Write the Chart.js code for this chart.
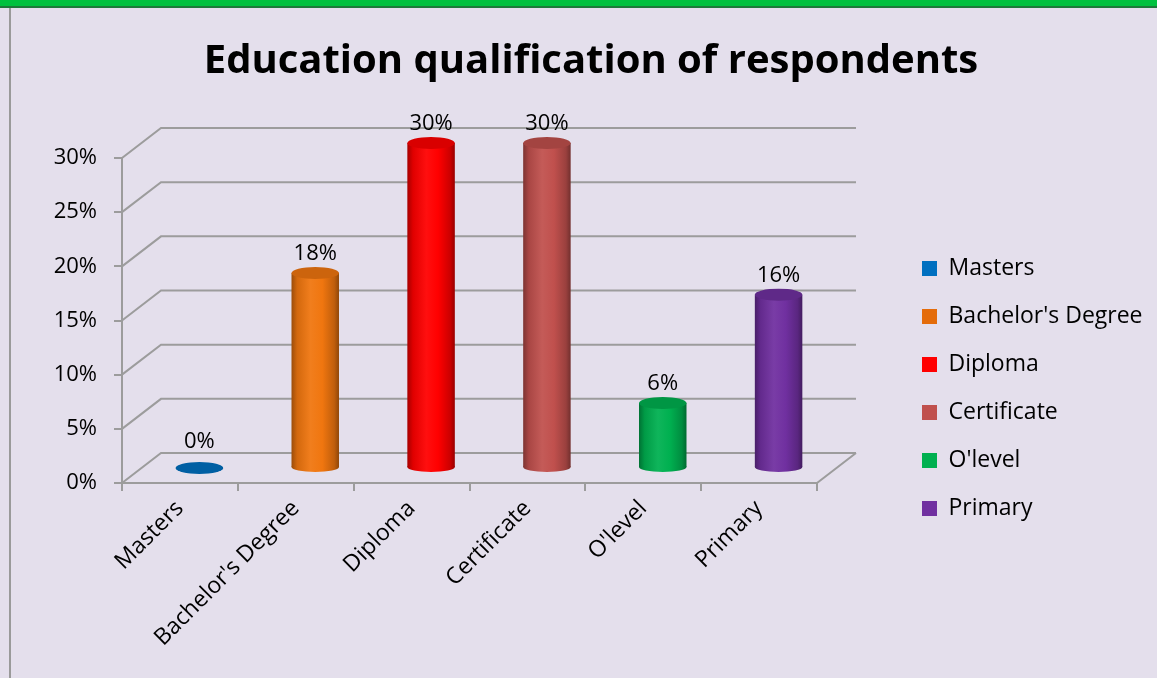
<!DOCTYPE html>
<html>
<head>
<meta charset="utf-8">
<title>Education qualification of respondents</title>
<script src="https://cdn.jsdelivr.net/npm/chart.js@4.4.0/dist/chart.umd.min.js"></script>
<style>
  html, body { margin: 0; padding: 0; background: #E4DFEC; }
  #wrap { position: relative; width: 1157px; height: 678px; overflow: hidden; }
  #topbar { position: absolute; left: 0; top: 0; width: 100%; height: 6px; background: #00C13F; border-bottom: 2px solid #1C7A3A; }
  #leftline { position: absolute; left: 9px; top: 8px; width: 2px; height: 670px; background: #9A9A9A; }
  canvas { position: absolute; left: 0; top: 0; }
</style>
</head>
<body>
<div id="wrap">
  <div id="topbar"></div>
  <div id="leftline"></div>
  <canvas id="barChart" width="1157" height="678"></canvas>
</div>
<script>
const categories = ['Masters', "Bachelor's Degree", 'Diploma', 'Certificate', "O'level", 'Primary'];
const percentages = [0, 18, 30, 30, 6, 16];
const barColors = ['#0070C0', '#F0760F', '#FF0000', '#C0504D', '#00B050', '#7030A0'];
const legendColors = ['#0070C0', '#E46C0A', '#FF0000', '#C0504D', '#00B050', '#7030A0'];
const yTicks = [0, 5, 10, 15, 20, 25, 30];
const chartTitle = 'Education qualification of respondents';

// depth of the 3d box; cylinders stand half way in
const DEPTH_X = 39, DEPTH_Y = 30;
const GRID = '#9C9C9C';
const FONT = 'Open Sans';

function shade(hex, amt) {
  const n = parseInt(hex.slice(1), 16);
  const r = n >> 16, g = (n >> 8) & 255, b = n & 255;
  const f = c => amt < 0 ? Math.round(c * (1 + amt)) : Math.round(c + (255 - c) * amt);
  return `rgb(${f(r)},${f(g)},${f(b)})`;
}

function cylGradient(ctx, x, w, hex) {
  const g = ctx.createLinearGradient(x - w / 2, 0, x + w / 2, 0);
  g.addColorStop(0, shade(hex, -0.35));
  g.addColorStop(0.12, shade(hex, -0.12));
  g.addColorStop(0.4, shade(hex, 0.06));
  g.addColorStop(0.65, hex);
  g.addColorStop(0.9, shade(hex, -0.2));
  g.addColorStop(1, shade(hex, -0.4));
  return g;
}

const cylinder3d = {
  id: 'cylinder3d',
  afterInit(chart) {
    // fixed legend width so the plot keeps its place
    const lg = chart.legend;
    const fit = lg.fit.bind(lg);
    lg.fit = function () { fit(); this.width = 340; };
  },
  afterLayout(chart) {
    const lg = chart.legend;
    const dx = 897 - lg.left, dy = 232 - lg.top;
    lg.left += dx; lg.right += dx; lg.top += dy; lg.bottom += dy;
  },
  beforeDatasetsDraw(chart) {
    const { ctx, chartArea: a, scales: { y } } = chart;
    ctx.save();
    ctx.strokeStyle = GRID;
    ctx.lineWidth = 2;
    ctx.beginPath();
    yTicks.forEach(v => {
      const py = y.getPixelForValue(v);
      ctx.moveTo(a.left, py);
      ctx.lineTo(a.left + DEPTH_X, py - DEPTH_Y);
      ctx.lineTo(a.right + DEPTH_X, py - DEPTH_Y);
    });
    ctx.moveTo(a.right, a.bottom);
    ctx.lineTo(a.right + DEPTH_X, a.bottom - DEPTH_Y);
    ctx.stroke();
    ctx.restore();

    ctx.save();
    ctx.translate(DEPTH_X / 2, -DEPTH_Y / 2);
    chart.getDatasetMeta(0).data.forEach((bar, i) => {
      ctx.beginPath();
      ctx.ellipse(bar.x, bar.base, bar.width / 2, 5, 0, 0, Math.PI * 2);
      ctx.fillStyle = cylGradient(ctx, bar.x, bar.width, barColors[i]);
      ctx.fill();
    });
  },
  afterDatasetsDraw(chart) {
    const ctx = chart.ctx;
    chart.getDatasetMeta(0).data.forEach((bar, i) => {
      ctx.beginPath();
      ctx.ellipse(bar.x, bar.y, bar.width / 2, 6, 0, 0, Math.PI * 2);
      ctx.fillStyle = shade(barColors[i], -0.15);
      ctx.fill();
      ctx.fillStyle = '#000';
      ctx.font = `22px "${FONT}"`;
      ctx.textAlign = 'center';
      ctx.textBaseline = 'middle';
      const lift = percentages[i] === 0 ? 26 : 19;
      ctx.fillText(percentages[i] + '%', bar.x, bar.y - lift);
    });
    ctx.restore();
  }
};

function draw() {
  const ctx = document.getElementById('barChart').getContext('2d');
  new Chart(ctx, {
    type: 'bar',
    data: {
      labels: categories,
      datasets: [{
        data: percentages,
        backgroundColor: c => {
          const xs = c.chart.scales.x;
          if (!xs || !c.chart.chartArea) return barColors[c.dataIndex];
          const w = (xs.width / categories.length) * 0.41;
          return cylGradient(c.chart.ctx, xs.getPixelForValue(c.dataIndex), w, barColors[c.dataIndex]);
        },
        borderWidth: 0,
        barPercentage: 0.41,
        categoryPercentage: 1,
        clip: false
      }]
    },
    options: {
      responsive: false,
      animation: false,
      layout: { padding: { left: 25, right: 0, top: 0, bottom: 0 } },
      plugins: {
        title: {
          display: true,
          text: chartTitle,
          color: '#000',
          font: { family: FONT, size: 40, weight: 'bold', lineHeight: 1.2 },
          padding: { top: 38, bottom: 72 }
        },
        legend: {
          position: 'right',
          align: 'start',
          labels: {
            boxWidth: 15,
            boxHeight: 15,
            padding: 25,
            color: '#000',
            font: { family: FONT, size: 23 },
            generateLabels: () => categories.map((c, i) => ({
              text: c, fillStyle: legendColors[i], strokeStyle: legendColors[i],
              lineWidth: 0, hidden: false, index: i
            }))
          }
        },
        tooltip: { enabled: false }
      },
      scales: {
        x: {
          grid: { offset: true, drawOnChartArea: false, color: GRID, lineWidth: 2, tickLength: 8 },
          border: { color: GRID, width: 2 },
          ticks: { minRotation: 45, maxRotation: 45, autoSkip: false, color: '#000', font: { family: FONT, size: 23 }, padding: 4 },
          afterFit: s => { s.height = 195; }
        },
        y: {
          min: 0,
          max: 30,
          afterBuildTicks: s => { s.ticks = yTicks.map(v => ({ value: v })); },
          ticks: { callback: v => v + '%', padding: 17, color: '#000', font: { family: FONT, size: 22 } },
          grid: { drawOnChartArea: false, color: GRID, lineWidth: 2, tickLength: 8 },
          border: { color: GRID, width: 2 },
          afterFit: s => { s.width = 97; }
        }
      }
    },
    plugins: [cylinder3d]
  });
}

Promise.all([
  document.fonts.load('bold 40px "Open Sans"'),
  document.fonts.load('23px "Open Sans"')
]).then(draw, draw);
</script>
</body>
</html>
